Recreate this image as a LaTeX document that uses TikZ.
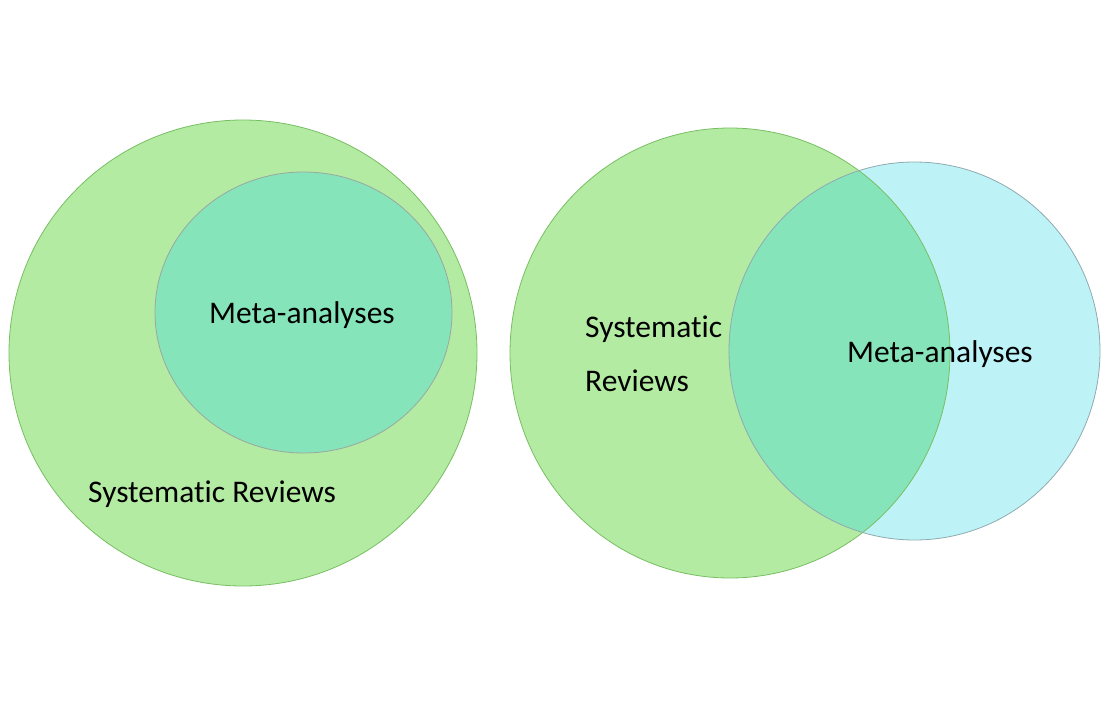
\documentclass[tikz,border=0pt]{standalone}
\usepackage{fontspec}
\setmainfont[Ligatures=NoCommon]{Carlito}
\definecolor{grfill}{HTML}{B3EBA3}
\definecolor{grline}{HTML}{78BE62}
\definecolor{mint}{HTML}{86E4BA}
\definecolor{blfill}{HTML}{BDF3F7}
\definecolor{blline}{HTML}{8FAAB0}
\definecolor{elline}{HTML}{9AA8A0}
\begin{document}
\begin{tikzpicture}[x=1pt,y=-1pt,
  lbl/.style={font=\fontsize{31.5}{36}\selectfont, inner sep=0pt, anchor=base west, text=black}]
\useasboundingbox (0,0) rectangle (1117,715);
% left diagram
\fill[grfill] (243,353) ellipse [x radius=234pt, y radius=233pt];
\draw[grline, line width=0.8pt] (243,353) ellipse [x radius=234pt, y radius=233pt];
\fill[mint] (303.5,312.5) ellipse [x radius=148.5pt, y radius=140.5pt];
\draw[elline, line width=0.8pt] (303.5,312.5) ellipse [x radius=148.5pt, y radius=140.5pt];
\node[lbl] (ma1) at (209,323) {Meta-analyses};
\node[lbl] (sr1) at (88,502) {Systematic Reviews};
% right diagram
\fill[grfill] (730,353) ellipse [x radius=220pt, y radius=225pt];
\fill[blfill] (914.5,351) ellipse [x radius=185.5pt, y radius=189pt];
\begin{scope}
  \clip (730,353) ellipse [x radius=220pt, y radius=225pt];
  \fill[mint] (914.5,351) ellipse [x radius=185.5pt, y radius=189pt];
\end{scope}
\draw[grline, line width=0.8pt] (730,353) ellipse [x radius=220pt, y radius=225pt];
\draw[blline, line width=0.8pt] (914.5,351) ellipse [x radius=185.5pt, y radius=189pt];
\node[lbl] (sr2a) at (585,337) {Systematic};
\node[lbl] (sr2b) at (585,391) {Reviews};
\node[lbl] (ma2) at (847,362) {Meta-analyses};
\end{tikzpicture}
\end{document}
